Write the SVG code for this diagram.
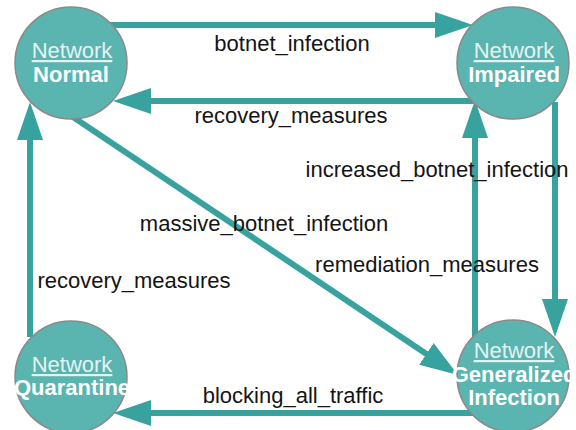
<svg xmlns="http://www.w3.org/2000/svg" width="576" height="430" viewBox="0 0 576 430">
<style>
.node{fill:#5ab4b0;stroke:#8a8a8a;stroke-width:1.5}
.t1{font-family:"Liberation Sans",Arial,sans-serif;font-size:22px;fill:#e4f3f1;text-anchor:middle;text-decoration:underline}
.t2{font-family:"Liberation Sans",Arial,sans-serif;font-size:22px;font-weight:bold;fill:#ffffff;text-anchor:middle}
.edge{fill:none;stroke:#37a29e;stroke-width:6;marker-end:url(#arr)}
.lbl{font-family:"Liberation Sans",Arial,sans-serif;font-size:22px;fill:#141414;text-anchor:middle}
</style>
<defs>
<marker id="arr" markerUnits="userSpaceOnUse" markerWidth="40" markerHeight="28" viewBox="0 -14 40 28" refX="1" refY="0" orient="auto">
<path d="M0,-13 L38,0 L0,13 z" fill="#37a29e"/>
</marker>
</defs>
<rect width="576" height="430" fill="#ffffff"/>
<g id="connectors">
<path class="edge" d="M110,25 H436"/>
<path class="edge" d="M473,101 H150"/>
<path class="edge" d="M555,102 V300"/>
<path class="edge" d="M475,337 V137"/>
<path class="edge" d="M73,117 L427.2,354.4"/>
<path class="edge" d="M473,413 H150"/>
<path class="edge" d="M30,337 V139"/>
<text class="lbl" x="292" y="51">botnet_infection</text>
<text class="lbl" x="291" y="123">recovery_measures</text>
<text class="lbl" x="437" y="177">increased_botnet_infection</text>
<text class="lbl" x="264" y="231">massive_botnet_infection</text>
<text class="lbl" x="427" y="272">remediation_measures</text>
<text class="lbl" x="134" y="288">recovery_measures</text>
<text class="lbl" x="293" y="403">blocking_all_traffic</text>
</g>
<g id="normal">
<circle class="node" cx="71" cy="63" r="56"/>
<text class="t1" x="72" y="58">Network</text>
<text class="t2" x="71" y="82">Normal</text>
</g>
<g id="impaired">
<circle class="node" cx="513" cy="63" r="56"/>
<text class="t1" x="514" y="58">Network</text>
<text class="t2" x="514" y="82">Impaired</text>
</g>
<g id="quarantine">
<circle class="node" cx="71" cy="377" r="56"/>
<text class="t1" x="72" y="372">Network</text>
<text class="t2" x="72" y="395">Quarantine</text>
</g>
<g id="generalized">
<circle class="node" cx="513" cy="376" r="56"/>
<text class="t1" x="514" y="358">Network</text>
<text class="t2" x="514" y="382">Generalized</text>
<text class="t2" x="514" y="405">Infection</text>
</g>
</svg>
